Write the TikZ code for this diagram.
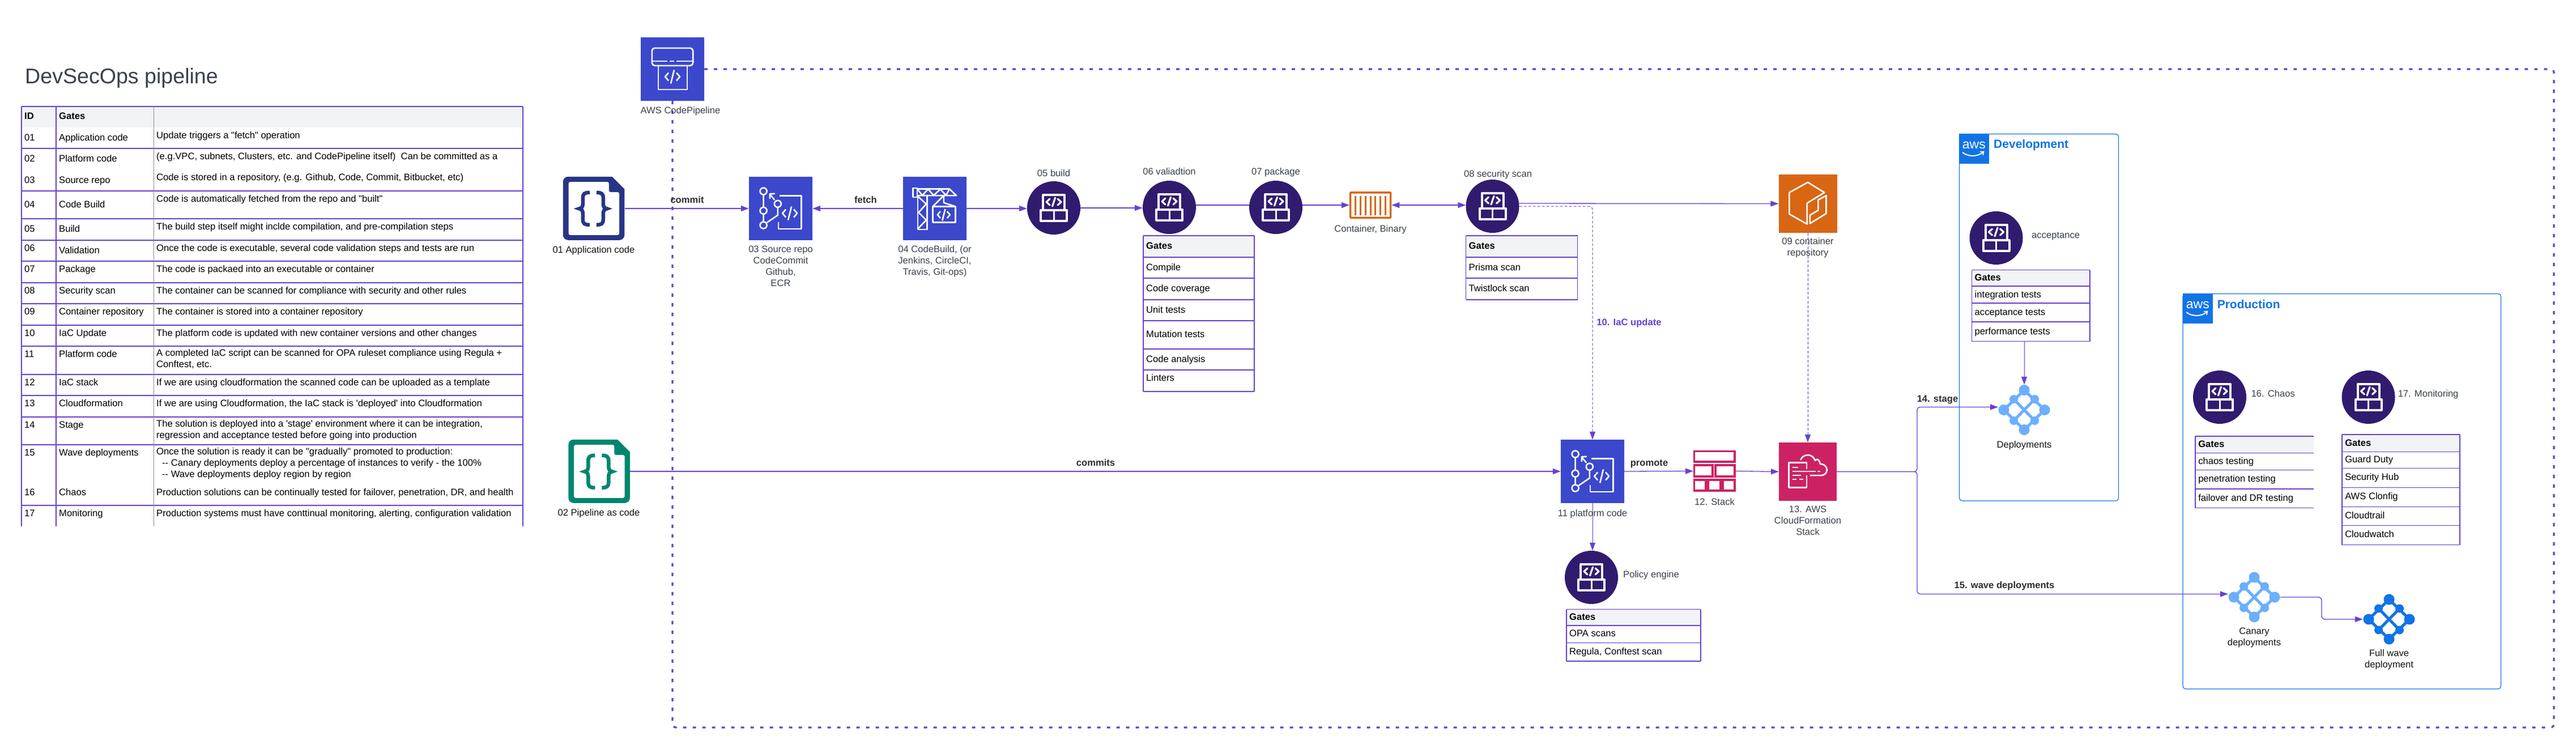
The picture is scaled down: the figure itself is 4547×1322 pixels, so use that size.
\documentclass[tikz,border=0pt]{standalone}
\usepackage{fontspec}
\setmainfont[Ligatures=TeXOff]{Liberation Sans}
\usetikzlibrary{arrows.meta}
\definecolor{pl}{HTML}{6741D0}
\definecolor{gdark}{HTML}{311B6F}
\definecolor{awsblue}{HTML}{3B48CC}
\definecolor{awsor}{HTML}{D86613}
\definecolor{awspk}{HTML}{CC2264}
\definecolor{navy}{HTML}{283587}
\definecolor{teal2}{HTML}{00866E}
\definecolor{blue2}{HTML}{1273E6}
\definecolor{lblue}{HTML}{6CAEFF}
\definecolor{lab}{HTML}{3A414A}
\definecolor{hdr}{HTML}{F2F3F5}
\tikzset{
 x=1pt,y=-1pt,
 body/.style={inner sep=0,yshift=-2.5pt,font=\fontsize{16.6}{20}\selectfont,execute at begin node=\strut},
 celltext/.style={body,anchor=north west,align=left,text=black},
 celltextb/.style={celltext,font=\fontsize{16.6}{20}\selectfont\bfseries},
 label/.style={body,anchor=north,align=center,text=lab},
 labelw/.style={body,anchor=north west,align=left,text=lab},
 blabel/.style={body,anchor=north,align=center,text=black!82,font=\fontsize{16.6}{20}\selectfont\bfseries},
 dlabel/.style={label,text=black!92},
 conn/.style={draw=pl,line width=1.3},
 arr/.style={conn,-{Triangle[length=14pt,width=10pt]}},
 darr/.style={conn,{Triangle[length=14pt,width=10pt]}-{Triangle[length=14pt,width=10pt]}},
 thind/.style={arr,line width=1,dash pattern=on 5pt off 3pt},
 pipeframe/.style={draw=pl,line width=3.2,dash pattern=on 6pt off 11pt,rounded corners=6},
 tline/.style={draw=pl,line width=1.2},
 gcirc/.style={circle,fill=gdark,minimum size=94,inner sep=0},
 squ/.style={rectangle,inner sep=0,minimum width=#1,minimum height=#1},
 wl/.style={draw=white,line width=2.6,line join=round},
 envbox/.style={draw=blue2,line width=1.2,rounded corners=5},
 pics/codeg/.style={code={
   \draw[wl] (-7,-7)--(-13,0)--(-7,7) (7,-7)--(13,0)--(7,7) (3,-12)--(-3,12);}},
 pics/gateg/.style={code={
   \draw[draw=white,line width=4,line join=round] (-19,-23) rectangle (19,4.3) (-23,4.3) rectangle (23,22.5);
   \draw[draw=white,line width=3] (0,4.3)--(0,22.5);
   \draw[wl,line width=3.2,line cap=round] (-7,-16)--(-13,-10.5)--(-7,-5) (7,-16)--(13,-10.5)--(7,-5) (2.5,-18)--(-2.5,-3);}},
 pics/meshg/.style={code={
   \draw[#1,line width=5] (0,-35)--(36,0)--(0,35)--(-36,0)--cycle (-18.5,-19)--(18.5,19) (18.5,-19)--(-18.5,19);
   \fill[#1] (0,-35) circle (9.5) (0,35) circle (9.5) (-36,0) circle (9.5) (36,0) circle (9.5)
     (-18.5,-19) circle (7.5) (18.5,-19) circle (7.5) (-18.5,19) circle (7.5) (18.5,19) circle (7.5);}},
 pics/docg/.style={code={
   \fill[#1,rounded corners=9] (0,56) -- (0,0) [sharp corners] -- (86.7,0) -- (108.5,22) [rounded corners=9] -- (108.5,112) -- (0,112) -- cycle;
   \fill[white,rounded corners=3] (9.8,9.3) -- (81,9.3) -- (81,27.3) -- (99.3,27.3) -- (99.3,103) -- (9.8,103) -- cycle;
   \draw[#1,line width=6.5] (47,28) .. controls (38,28) and (35,30) .. (35,38) -- (35,48) .. controls (35,53) and (33,55.5) .. (28.5,56.5) .. controls (33,57.5) and (35,60) .. (35,65) -- (35,75) .. controls (35,83) and (38,85) .. (47,85);
   \draw[#1,line width=6.5] (59,28) .. controls (68,28) and (71,30) .. (71,38) -- (71,48) .. controls (71,53) and (73,55.5) .. (77.5,56.5) .. controls (73,57.5) and (71,60) .. (71,65) -- (71,75) .. controls (71,83) and (68,85) .. (59,85);}},
 pics/repog/.style={code={
   \draw[wl] (25.8,25.7) circle (6) (25.8,60) circle (6) (25.8,85.7) circle (6) (51,48) circle (6);
   \draw[wl] (25.8,31.7)--(25.8,54) (25.8,66)--(25.8,79.7) (51,54)--(51,68)--(32,81);
   \draw[wl] (45.4,41)--(37,31) (46,30)--(37,30.5)--(37,39);
   \draw[wl] (54,33.7)--(92.4,33.7)--(92.4,92.3)--(52,92.3)--(52,80);
   \pic at (72.3,64.7) {codeg};}},
}
\newcommand\gatecirc[3]{\node[gcirc] (#1) at (#2,#3) {}; \pic at (#1.center) {gateg};}
\newcommand\awslogo[3]{%
 \node[squ=53,fill=blue2,anchor=north west] (#1) at (#2,#3) {};
 \begin{scope}[shift={(#1.north west)}]
  \node[inner sep=0,text=white,font=\fontsize{23}{25}\selectfont] (#1t) at (26.3,20) {aws};
  \draw[draw=white,line width=2] (6,33) .. controls (16,41) and (32,41) .. (42,33);
  \draw[draw=white,line width=1.6] (37,32)--(43.5,31.5)--(42,38);
 \end{scope}}
\newcommand\trow[7]{%
 \node[celltext] (id#1) at (43,#2-10) {#5};
 \node[celltext] (nm#1) at (104,#3-10) {#6};
 \node[celltext] (tx#1) at (276,#4-10) {#7};}
\begin{document}
\begin{tikzpicture}
\useasboundingbox (0,0) rectangle (4547,1322);
\fill[white] (0,0) rectangle (4547,1322);
% title
\node[inner sep=0,anchor=base west,text=lab,font=\fontsize{37.6}{44}\selectfont] (title) at (44,147) {DevSecOps pipeline};
% main table
\fill[hdr] (38,188) rectangle (923,225);
\foreach \yy in {188,262,337,386,424,461,499,536,574,611,661,698,736,785,892} {\draw[tline] (38,\yy)--(923,\yy);}
\draw[tline] (38,188)--(38,929) (99,188)--(99,929) (923,188)--(923,929);
\draw[draw=black!45,line width=.8] (271,188)--(271,929);
\node[celltext,font=\fontsize{16.6}{20}\selectfont\bfseries] (idh) at (43,194) {ID};
\node[celltext,font=\fontsize{16.6}{20}\selectfont\bfseries] (gh) at (104,194) {Gates};
\trow{01}{242}{242}{238}{01}{Application code}{Update triggers a "fetch" operation}
\trow{02}{279}{279}{275}{02}{Platform code}{(e.g.VPC, subnets, Clusters, etc. and CodePipeline itself)\ \ Can be committed as a}
\trow{03}{317}{317}{312}{03}{Source repo}{Code is stored in a repository, (e.g. Github, Code, Commit, Bitbucket, etc)}
\trow{04}{360}{360}{350}{04}{Code Build}{Code is automatically fetched from the repo and "built"}
\trow{05}{403}{403}{399}{05}{Build}{The build step itself might inclde compilation, and pre-compilation steps}
\trow{06}{437}{441}{437}{06}{Validation}{Once the code is executable, several code validation steps and tests are run}
\trow{07}{474}{474}{474}{07}{Package}{The code is packaed into an executable or container}
\trow{08}{512}{512}{512}{08}{Security scan}{The container can be scanned for compliance with security and other rules}
\trow{09}{549}{549}{549}{09}{Container repository}{The container is stored into a container repository}
\trow{10}{587}{587}{587}{10}{IaC Update}{The platform code is updated with new container versions and other changes}
\trow{11}{624}{624}{624}{11}{Platform code}{A completed IaC script can be scanned for OPA ruleset compliance using Regula +\\Conftest, etc.}
\trow{12}{674}{674}{674}{12}{IaC stack}{If we are using cloudformation the scanned code can be uploaded as a template}
\trow{13}{711}{711}{711}{13}{Cloudformation}{If we are using Cloudformation, the IaC stack is 'deployed' into Cloudformation}
\trow{14}{749}{749}{749}{14}{Stage}{The solution is deployed into a 'stage' environment where it can be integration,\\regression and acceptance tested before going into production}
\trow{15}{798}{798}{798}{15}{Wave deployments}{Once the solution is ready it can be "gradually" promoted to production:\\\hspace*{10pt}-- Canary deployments deploy a percentage of instances to verify - the 100\%\\\hspace*{10pt}-- Wave deployments deploy region by region}
\trow{16}{868}{868}{868}{16}{Chaos}{Production solutions can be continually tested for failover, penetration, DR, and health}
\trow{17}{905}{905}{905}{17}{Monitoring}{Production systems must have conttinual monitoring, alerting, configuration validation}

% environment boxes
\draw[envbox] (3458.5,236.5) rectangle (3739.5,884);
\draw[envbox] (3853,518.5) rectangle (4414.5,1216);
\awslogo{awsd}{3458}{236}
\awslogo{awsp}{3853}{518}
\node[inner sep=0,anchor=west,text=blue2,font=\fontsize{21}{25}\selectfont\bfseries] (devt) at (3519,256) {Development};
\node[inner sep=0,anchor=west,text=blue2,font=\fontsize{21}{25}\selectfont\bfseries] (prodt) at (3913.5,537) {Production};

% icons: squares
\node[squ=112,fill=awsblue] (cp) at (1187,122) {};
\begin{scope}[shift={(cp.north west)}]
 \draw[wl,rounded corners=5] (20,50) -- (20,19) -- (92.4,19) -- (92.4,50) -- cycle;
 \draw[wl] (20,42.3)--(47,42.3) (51,42.3)--(59,42.3) (63,42.3)--(92.4,42.3);
 \draw[wl] (31,50) rectangle (82,92.3);
 \pic at (56.2,69.7) {codeg};
\end{scope}
\node[squ=112,fill=awsblue] (r03) at (1378,368) {};
\begin{scope}[shift={(r03.north west)}] \pic {repog}; \end{scope}
\node[squ=112,fill=awsblue] (r04) at (1650,368) {};
\begin{scope}[shift={(r04.north west)}]
 \draw[wl] (25.3,21.7)--(82,21.7)--(94.3,33.3)--(26,33.3);
 \draw[wl] (25.3,22)--(34.3,33)--(44.3,22)--(54.3,33)--(66,22)--(76,33)--(82,22);
 \draw[wl] (17.7,20) rectangle (25.3,36);
 \draw[wl] (26,36)--(26,93)--(42.7,93)--(42.7,33.3);
 \draw[wl] (26.7,35)--(41,48.3)--(27.7,63.3)--(41,76.7)--(26.7,91.7);
 \draw[wl] (72,33.3)--(72,46)--(92.7,52.7)--(52.7,52.7)--cycle;
 \draw[wl] (52.7,52.7) rectangle (92.7,80.7);
 \pic[scale=.85] at (72,67.3) {codeg};
\end{scope}
\node[squ=103,fill=awsor] (r09) at (3191,359.5) {};
\begin{scope}[shift={(r09.north west)}]
 \draw[wl] (51.7,14)--(81,32)--(50.4,50.7)--(50.4,87.7)--(19,70)--(19,32)--cycle;
 \draw[wl] (84.2,37.3)--(84.2,69)--(55.5,86.7)--(55.5,72)--(70,63.3)--(70,45)--cycle;
\end{scope}
\node[squ=112,fill=awsblue] (r11) at (2811,832) {};
\begin{scope}[shift={(r11.north west)}] \pic {repog}; \end{scope}
\node[rectangle,inner sep=0,minimum width=102,minimum height=103,fill=awspk] (r13) at (3191,832.5) {};
\begin{scope}[shift={(r13.north west)}]
 \draw[wl] (49.3,47) -- (49.3,35.7) -- (17.7,35.7) -- (17.7,79.7) -- (49.3,79.7) -- (49.3,58);
 \draw[wl] (24.3,44)--(34.3,44) (24.3,51)--(65,51) (67.7,51)--(72.7,51) (24.3,58)--(39,58) (24.3,65)--(31.5,65) (36,65)--(43.5,65);
 \draw[wl] (38.3,31) .. controls (41,25) and (46,22.3) .. (51.7,22.3) .. controls (57,22.3) and (62,26) .. (64,32) .. controls (66,29) and (71,28) .. (73,38) .. controls (80,38) and (85,43) .. (85,48.5) .. controls (85,54) and (80,58.3) .. (75,58.3) -- (55,58.3);
\end{scope}
% documents
\node[rectangle,inner sep=0,minimum width=108.5,minimum height=112] (d01) at (1048.25,368) {};
\begin{scope}[shift={(d01.north west)}] \pic {docg=navy}; \end{scope}
\node[rectangle,inner sep=0,minimum width=108.5,minimum height=112] (d02) at (1057.75,832) {};
\begin{scope}[shift={(d02.north west)}] \pic {docg=teal2}; \end{scope}
% container
\node[rectangle,inner sep=0,minimum width=71,minimum height=44.5,draw=awsor,line width=3.5,fill=white,rounded corners=1] (cont) at (2419.2,362) {};
\foreach \i in {2392.3,2401.2,2410.1,2419,2427.9,2436.8,2445.7} {\draw[draw=awsor,line width=3] (\i,346)--(\i,380);}
% stack
\node[rectangle,inner sep=0,minimum width=75,minimum height=73] (st) at (3026.5,831.5) {};
\begin{scope}[shift={(st.north west)},line width=3.4]
 \draw[draw=awspk] (1.7,1.7) rectangle (73.3,20);
 \draw[draw=awspk] (1.7,26) rectangle (34,46) (39,26) rectangle (73.3,46);
 \draw[draw=awspk] (1.7,52) rectangle (22,71.3) (26,52) rectangle (48,71.3) (52,52) rectangle (73.3,71.3);
\end{scope}
% circles
\gatecirc{c05}{1860}{367}
\gatecirc{c06}{2064}{366}
\gatecirc{c07}{2252}{366}
\gatecirc{c08}{2634.5}{364}
\gatecirc{cpol}{2809}{1019}
\gatecirc{cacc}{3523.5}{420}
\gatecirc{c16}{3918}{701}
\gatecirc{c17}{4180.5}{701}
% meshes
\node[rectangle,inner sep=0,minimum width=92,minimum height=89] (dep) at (3573,723.5) {};
\pic at (dep.center) {meshg=lblue};
\node[rectangle,inner sep=0,minimum width=92,minimum height=89] (can) at (3979,1054) {};
\pic at (can.center) {meshg=lblue};
\node[rectangle,inner sep=0,minimum width=92,minimum height=89] (full) at (4217,1093) {};
\pic at (full.center) {meshg=blue2};

% gate tables
\fill[hdr] (2018,416) rectangle (2214,454);
\foreach \yy in {416,454,491,529,566,616,653,691} {\draw[tline] (2018,\yy)--(2214,\yy);}
\draw[tline] (2018,416)--(2018,691) (2214,416)--(2214,691);
\node[celltextb] (a0) at (2023,423) {Gates};
\node[celltext] (a1) at (2023,461) {Compile};
\node[celltext] (a2) at (2023,498) {Code coverage};
\node[celltext] (a3) at (2023,536) {Unit tests};
\node[celltext] (a4) at (2023,579) {Mutation tests};
\node[celltext] (a5) at (2023,623) {Code analysis};
\node[celltext] (a6) at (2023,656) {Linters};

\fill[hdr] (2587.5,416) rectangle (2784.5,454);
\foreach \yy in {416,454,491,529} {\draw[tline] (2587.5,\yy)--(2784.5,\yy);}
\draw[tline] (2587.5,416)--(2587.5,529) (2784.5,416)--(2784.5,529);
\node[celltextb] (b0) at (2592.5,423) {Gates};
\node[celltext] (b1) at (2592.5,461) {Prisma scan};
\node[celltext] (b2) at (2592.5,498) {Twistlock scan};

\fill[hdr] (2765,1075.5) rectangle (3002,1104);
\foreach \yy in {1075.5,1104,1134.5,1167} {\draw[tline] (2765,\yy)--(3002,\yy);}
\draw[tline] (2765,1075.5)--(2765,1167) (3002,1075.5)--(3002,1167);
\node[celltextb] (e0) at (2770,1078) {Gates};
\node[celltext] (e1) at (2770,1107) {OPA scans};
\node[celltext] (e2) at (2770,1139) {Regula, Conftest scan};

\fill[hdr] (3480.5,476.5) rectangle (3689,505);
\foreach \yy in {476.5,505,535,568,602.5} {\draw[tline] (3480.5,\yy)--(3689,\yy);}
\draw[tline] (3480.5,476.5)--(3480.5,602.5) (3689,476.5)--(3689,602.5);
\node[celltextb] (f0) at (3485.5,479) {Gates};
\node[celltext] (f1) at (3485.5,508.5) {integration tests};
\node[celltext] (f2) at (3485.5,540) {acceptance tests};
\node[celltext] (f3) at (3485.5,573.5) {performance tests};
\coordinate (tdevb) at (3573,602.5);

\fill[hdr] (3875,770) rectangle (4084,799.5);
\foreach \yy in {770,799.5,829.5,863,896.5} {\draw[tline] (3875,\yy)--(4084,\yy);}
\draw[tline] (3875,770)--(3875,896.5);
\node[celltextb] (g0) at (3880,773) {Gates};
\node[celltext] (g1) at (3880,803) {chaos testing};
\node[celltext] (g2) at (3880,834) {penetration testing};
\node[celltext] (g3) at (3880,867.5) {failover and DR testing};

\fill[hdr] (4134,767) rectangle (4342,797.5);
\foreach \yy in {767,797.5,826.5,860.5,894.5,927.5,961.5} {\draw[tline] (4134,\yy)--(4342,\yy);}
\draw[tline] (4134,767)--(4134,961.5) (4342,767)--(4342,961.5);
\node[celltextb] (h0) at (4139,770.5) {Gates};
\node[celltext] (h1) at (4139,800) {Guard Duty};
\node[celltext] (h2) at (4139,831) {Security Hub};
\node[celltext] (h3) at (4139,865) {AWS Clonfig};
\node[celltext] (h4) at (4139,898.5) {Cloudtrail};
\node[celltext] (h5) at (4139,932) {Cloudwatch};

% connectors
\coordinate (fr) at (4508,1284);
\draw[pipeframe] (cp.east) -| (fr) -| (cp.south);
\draw[arr] (d01.east) -- (r03.west);
\draw[arr] (r04.west) -- (r03.east);
\draw[arr] (r04.east) -- ([yshift=-1pt]c05.west);
\draw[arr] (c05.east) -- ([yshift=-1pt]c06.west);
\draw[conn] ([yshift=4pt]c06.east) -- ([yshift=4pt]c07.west);
\draw[arr] ([yshift=4pt]c07.east) -- (cont.west);
\draw[darr] (cont.east) -- ([yshift=2pt]c08.west);
\draw[arr] ([yshift=5pt]c08.east) -- (r09.west);
\draw[thind,rounded corners=6] (c08.east) -| (r11.north);
\draw[thind] (r09.south) -- (r13.north);
\draw[arr] (d02.east) -- (r11.west);
\draw[arr] (r11.east) -- (st.west);
\draw[arr] (st.east) -- (r13.west);
\draw[arr,line width=1] (r11.south) -- (r11.south |- cpol.north);
\coordinate (trunk) at (3384,832.5);
\draw[arr,rounded corners=5] (r13.east) -- (trunk) |- ([yshift=5pt]dep.west);
\draw[arr,rounded corners=5] (r13.east) -- (trunk) |- ([yshift=5.5pt]can.west);
\draw[arr,line width=1] (tdevb) -- (dep.north);
\coordinate (cfm) at (4098,1054);
\draw[arr,rounded corners=6] (can.east) -- (cfm) |- (full.west);

% labels
\node[labelw] (lcp) at (1130.5,184) {AWS CodePipeline};
\node[dlabel] (l01) at (1048,430) {01 Application code};
\node[label] (l03) at (1378,431) {03 Source repo\\CodeCommit\\Github,\\ECR};
\node[label] (l04) at (1650,431) {04 CodeBuild, (or\\Jenkins, CircleCI,\\Travis, Git-ops)};
\node[label] (l05) at (1860,295) {05 build};
\node[label] (l06) at (2064,292) {06 valiadtion};
\node[label] (l07) at (2252,292) {07 package};
\node[label] (lcont) at (2419,393) {Container, Binary};
\node[label] (l08) at (2644,296) {08 security scan};
\node[label] (l09) at (3191,417) {09 container\\repository};
\node[dlabel] (l02) at (1057,894) {02 Pipeline as code};
\node[label] (l11) at (2811,894.5) {11 platform code};
\node[label] (l12) at (3026.5,874.5) {12. Stack};
\node[label] (l13) at (3191,890) {13. AWS\\CloudFormation\\Stack};
\node[labelw] (lpol) at (2865,1003) {Policy engine};
\node[labelw] (lacc) at (3586,404) {acceptance};
\node[labelw] (l16) at (3973.5,684) {16. Chaos};
\node[labelw] (l17) at (4232.5,684) {17. Monitoring};
\node[dlabel] (ldep) at (3573,774) {Deployments};
\node[dlabel] (lcan) at (3979,1105) {Canary\\deployments};
\node[dlabel] (lfull) at (4217,1143.5) {Full wave\\deployment};
\node[blabel] (ecommit) at (1213,342) {commit};
\node[blabel] (efetch) at (1528,342) {fetch};
\node[blabel] (ecommits) at (1934,806) {commits};
\node[blabel] (epromote) at (2911,806) {promote};
\node[blabel,text=pl] (eiac) at (2875.5,558) {10. IaC update};
\node[blabel] (estage) at (3420,693) {14. stage};
\node[blabel] (ewave) at (3538,1021.5) {15. wave deployments};
\end{tikzpicture}
\end{document}
